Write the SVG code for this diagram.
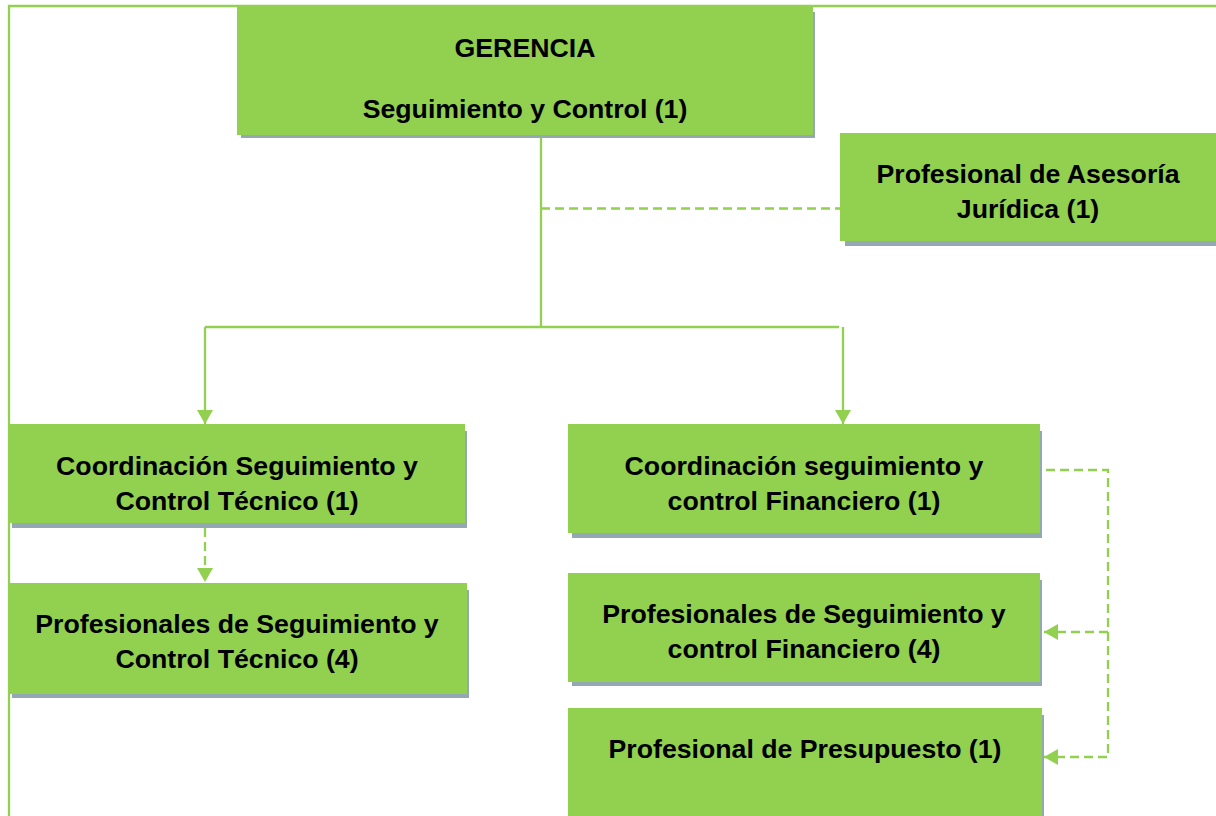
<svg xmlns="http://www.w3.org/2000/svg" width="1216" height="816" viewBox="0 0 1216 816">
<style>
.box{fill:#92d050;}
.sh{fill:#93a8b2;}
.t{font-family:"Liberation Sans",Arial,sans-serif;font-weight:bold;font-size:26.7px;fill:#000;text-anchor:middle;}
.ln{fill:none;stroke:#92d050;stroke-width:2.3;}
.dl{fill:none;stroke:#92d050;stroke-width:2.3;stroke-dasharray:9 5;}
</style>
<defs>
<marker id="arr" viewBox="0 0 14 16" refX="14" refY="8" markerWidth="14" markerHeight="16" orient="auto" markerUnits="userSpaceOnUse">
<path d="M0,0 L14,8 L0,16 z" fill="#92d050"/>
</marker>
</defs>
<rect width="1216" height="816" fill="#fff"/>
<path class="ln" d="M9,816 L9,6 L1216,6" stroke-width="2.5"/>
<g id="connectors">
<path class="ln" d="M541,135 L541,327"/>
<path class="dl" d="M541,208.5 L840,208.5" stroke-dasharray="8 6"/>
<path class="ln" d="M205,327 L839,327"/>
<path class="ln" d="M205,327 L205,424" marker-end="url(#arr)"/>
<path class="ln" d="M843,327 L843,424" marker-end="url(#arr)"/>
<path class="dl" d="M205,528 L205,582" marker-end="url(#arr)"/>
<path class="dl" d="M1046,470 L1108,470 L1108,757 L1044,757" marker-end="url(#arr)"/>
<path class="dl" d="M1108,632 L1044,632" marker-end="url(#arr)"/>
</g>
<g id="gerencia">
<rect class="sh" x="241" y="12" width="574" height="126"/>
<rect class="box" x="237" y="5" width="576" height="130"/>
<text class="t" x="525" y="57">GERENCIA</text>
<text class="t" x="525" y="118">Seguimiento y Control (1)</text>
</g>
<g id="asesoria">
<rect class="sh" x="845" y="140" width="380" height="106"/>
<rect class="box" x="840" y="133" width="380" height="108"/>
<text class="t" x="1028" y="183">Profesional de Asesoría</text>
<text class="t" x="1028" y="218">Jurídica (1)</text>
</g>
<g id="coord-tecnico">
<rect class="sh" x="12" y="431" width="455" height="97"/>
<rect class="box" x="8" y="424" width="457" height="99"/>
<text class="t" x="237" y="475">Coordinación Seguimiento y</text>
<text class="t" x="237" y="510">Control Técnico (1)</text>
</g>
<g id="prof-tecnico">
<rect class="sh" x="12" y="590" width="457" height="108"/>
<rect class="box" x="8" y="583" width="459" height="111"/>
<text class="t" x="237" y="633">Profesionales de Seguimiento y</text>
<text class="t" x="237" y="668">Control Técnico (4)</text>
</g>
<g id="coord-financiero">
<rect class="sh" x="572" y="431" width="470" height="107"/>
<rect class="box" x="568" y="424" width="472" height="109"/>
<text class="t" x="804" y="475">Coordinación seguimiento y</text>
<text class="t" x="804" y="510">control Financiero (1)</text>
</g>
<g id="prof-financiero">
<rect class="sh" x="572" y="580" width="470" height="106"/>
<rect class="box" x="568" y="573" width="472" height="109"/>
<text class="t" x="804" y="623">Profesionales de Seguimiento y</text>
<text class="t" x="804" y="658">control Financiero (4)</text>
</g>
<g id="presupuesto">
<rect class="sh" x="572" y="715" width="472" height="120"/>
<rect class="box" x="568" y="708" width="474" height="120"/>
<text class="t" x="805" y="758">Profesional de Presupuesto (1)</text>
</g>
</svg>
